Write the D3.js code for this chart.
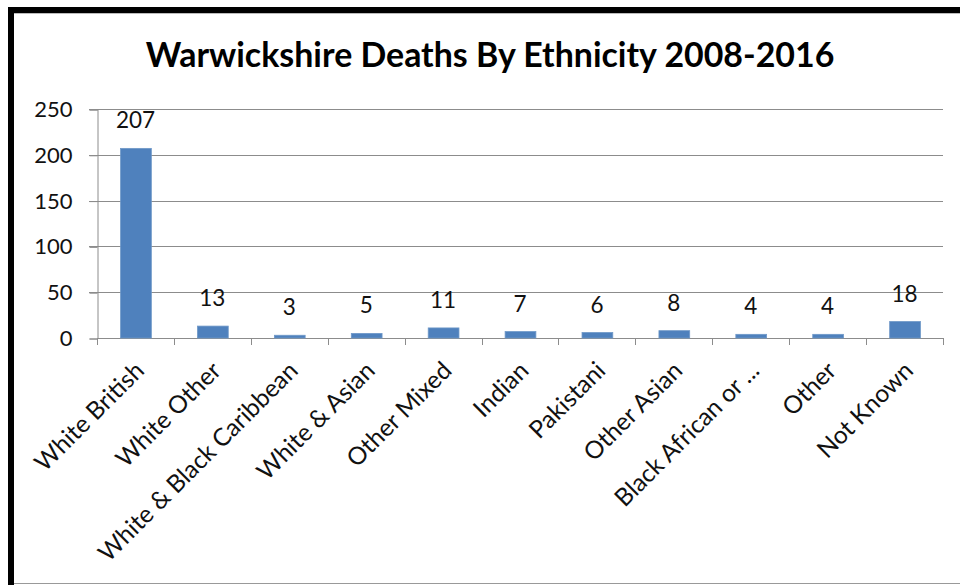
<!DOCTYPE html>
<html>
<head>
<meta charset="utf-8">
<script src="https://d3js.org/d3.v7.min.js"></script>
<style>
  body { margin: 0; background: #fff; }
  svg { display: block; }
</style>
</head>
<body>
<div id="chart"></div>
<script>
var categories = ["White British", "White Other", "White & Black Caribbean", "White & Asian",
    "Other Mixed", "Indian", "Pakistani", "Other Asian", "Black African or ...", "Other", "Not Known"];
var deaths = [207, 13, 3, 5, 11, 7, 6, 8, 4, 4, 18];
var yTicks = [0, 50, 100, 150, 200, 250];
var title = "Warwickshire Deaths By Ethnicity 2008-2016";

var width = 960, height = 585;
var font = "Lato, 'Open Sans', sans-serif";

var svg = d3.select("#chart").append("svg")
    .attr("width", width)
    .attr("height", height);

// frame
svg.append("rect").attr("x", 0).attr("y", 0).attr("width", width).attr("height", height).attr("fill", "#fff");
svg.append("rect").attr("x", 8).attr("y", 7).attr("width", width - 8).attr("height", 6).attr("fill", "#000");
svg.append("rect").attr("x", 8).attr("y", 7).attr("width", 6).attr("height", height - 7).attr("fill", "#000");
svg.append("line").attr("x1", 14).attr("x2", width).attr("y1", 13.5).attr("y2", 13.5).attr("stroke", "#bbb");
svg.append("line").attr("x1", 14).attr("x2", width).attr("y1", 583.5).attr("y2", 583.5).attr("stroke", "#999");

var x = d3.scaleBand().domain(categories).range([97, 943]).paddingInner(0.6).paddingOuter(0.3);
var y = d3.scaleLinear().domain([0, 250]).range([338, 109]);

// gridlines
svg.append("g").selectAll("line")
    .data(yTicks.filter(function(d) { return d > 0; }))
  .enter().append("line")
    .attr("x1", 89).attr("x2", 943)
    .attr("y1", function(d) { return Math.round(y(d)) + 0.5; })
    .attr("y2", function(d) { return Math.round(y(d)) + 0.5; })
    .attr("stroke", "#8c8c8c").attr("stroke-width", 1);

// y axis
var yAxis = svg.append("g")
    .attr("transform", "translate(97.5,0.5)")
    .call(d3.axisLeft(y).tickValues(yTicks).tickSize(8).tickPadding(17));
yAxis.select(".domain").attr("stroke", "#8c8c8c");
yAxis.selectAll(".tick line").attr("stroke", "#8c8c8c");
yAxis.selectAll("text").attr("font-family", font).attr("font-size", 22).attr("fill", "#111");

// x axis line + boundary ticks
var xAxisG = svg.append("g");
xAxisG.append("line").attr("x1", 97).attr("x2", 943).attr("y1", 338.5).attr("y2", 338.5).attr("stroke", "#8c8c8c");
var step = x.step();
xAxisG.selectAll(".bt")
    .data(d3.range(categories.length + 1))
  .enter().append("line")
    .attr("x1", function(i) { return Math.round(97 + i * step) + 0.5; })
    .attr("x2", function(i) { return Math.round(97 + i * step) + 0.5; })
    .attr("y1", 338).attr("y2", 345)
    .attr("stroke", "#8c8c8c");

// bars
svg.append("g").selectAll("rect")
    .data(deaths)
  .enter().append("rect")
    .attr("x", function(d, i) { return x(categories[i]) + 0.5; })
    .attr("y", function(d) { return y(d); })
    .attr("width", x.bandwidth())
    .attr("height", function(d) { return y(0) - y(d); })
    .attr("fill", "#4f81bd")
    .attr("stroke", "#6f98c8").attr("stroke-width", 0.8);

// data labels
svg.append("g").selectAll("text")
    .data(deaths)
  .enter().append("text")
    .attr("x", function(d, i) { return x(categories[i]) + x.bandwidth() / 2; })
    .attr("y", function(d) { return y(d) - 20; })
    .attr("text-anchor", "middle")
    .attr("font-family", font).attr("font-size", 22.5).attr("fill", "#111")
    .text(function(d) { return d; });

// category labels
svg.append("g").selectAll("text")
    .data(categories)
  .enter().append("text")
    .attr("transform", function(d) {
      return "translate(" + (x(d) + x.bandwidth() / 2 - 2) + ",360) rotate(-45)";
    })
    .attr("text-anchor", "end")
    .attr("dy", "0.7em")
    .attr("font-family", font).attr("font-size", 24.5).attr("fill", "#111")
    .text(function(d) { return d; });

// title
var t = svg.append("text")
    .attr("x", 490).attr("y", 67)
    .attr("text-anchor", "middle")
    .attr("font-family", font).attr("font-weight", "bold").attr("font-size", 32)
    .attr("fill", "#000")
    .text(title);
var tw = t.node().getComputedTextLength();
t.attr("font-size", 32 * 689 / tw);
</script>
</body>
</html>
